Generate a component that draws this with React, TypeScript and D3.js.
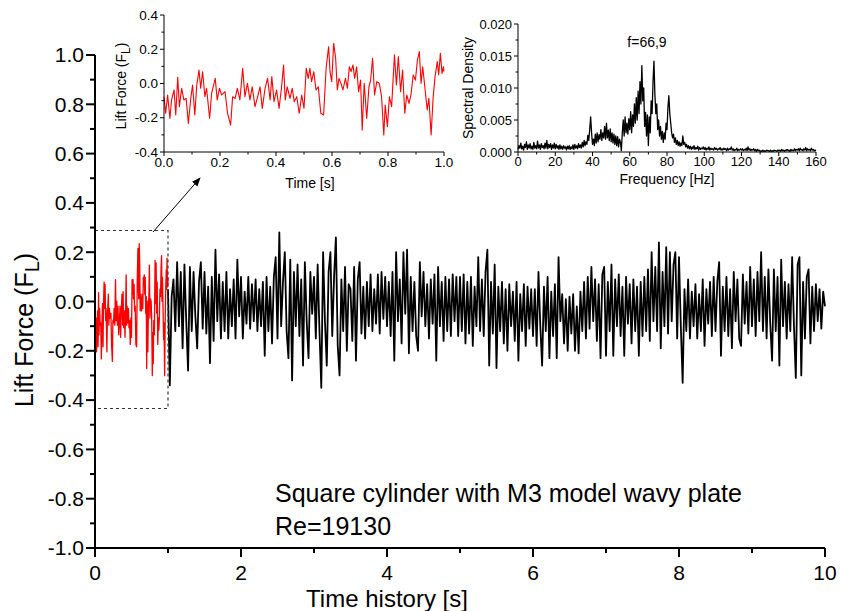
import React from "react";
import * as d3 from "d3";

const FONT = "'Liberation Sans', Arial, Helvetica, sans-serif";

// ---- Red segment (0–1 s), shown in main chart and in inset ----
const redTimes = [
  0, 0.006, 0.013, 0.021, 0.027, 0.036, 0.042, 0.049, 0.055, 0.063,
  0.071, 0.079, 0.087, 0.095, 0.102, 0.11, 0.117, 0.125, 0.131, 0.138,
  0.146, 0.152, 0.163, 0.17, 0.183, 0.19, 0.198, 0.206, 0.218, 0.227,
  0.238, 0.245, 0.254, 0.262, 0.271, 0.281, 0.289, 0.298, 0.307, 0.315,
  0.325, 0.333, 0.343, 0.351, 0.361, 0.37, 0.379, 0.385, 0.393, 0.402,
  0.411, 0.42, 0.427, 0.433, 0.44, 0.45, 0.458, 0.465, 0.474, 0.483,
  0.492, 0.5, 0.508, 0.515, 0.521, 0.527, 0.535, 0.543, 0.551, 0.56,
  0.57, 0.579, 0.588, 0.593, 0.599, 0.606, 0.613, 0.619, 0.625, 0.632,
  0.639, 0.648, 0.655, 0.662, 0.668, 0.675, 0.681, 0.688, 0.695, 0.702,
  0.708, 0.715, 0.724, 0.732, 0.738, 0.745, 0.752, 0.76, 0.769, 0.777,
  0.785, 0.79, 0.798, 0.805, 0.813, 0.823, 0.83, 0.837, 0.845, 0.852,
  0.86, 0.867, 0.875, 0.882, 0.89, 0.898, 0.905, 0.912, 0.918, 0.924,
  0.932, 0.94, 0.946, 0.954, 0.961, 0.968, 0.976, 0.981, 0.987, 0.993,
  0.998, 1.0,
];
const redValues = [
  -0.077, -0.174, -0.067, -0.204, -0.096, -0.038, -0.184, 0.036, -0.135, -0.028,
  -0.096, -0.087, -0.233, -0.096, -0.009, -0.184, -0.009, 0.079, -0.028, 0.069,
  -0.077, -0.028, -0.204, -0.058, 0.03, -0.096, -0.028, -0.067, -0.048, -0.174,
  -0.243, -0.077, -0.087, -0.028, -0.096, 0.089, -0.077, 0.001, -0.096, -0.019,
  -0.135, -0.087, -0.019, -0.145, -0.028, 0.03, -0.096, 0.04, -0.106, -0.038,
  -0.145, -0.019, 0.108, -0.096, -0.019, -0.087, -0.028, -0.106, -0.077, -0.174,
  -0.067, -0.145, 0.089, 0.03, 0.089, 0.011, 0.069, -0.038, -0.019, -0.174,
  -0.184, 0.089, 0.215, 0.069, 0.011, 0.235, 0.147, -0.038, 0.03, 0.001,
  -0.038, 0.03, -0.028, 0.098, 0.069, 0.108, 0.03, 0.098, -0.048, 0.02,
  -0.272, 0.001, -0.204, -0.019, 0.02, 0.147, -0.067, 0.011, 0.001, -0.077,
  -0.301, -0.126, -0.252, -0.077, -0.135, 0.167, -0.009, 0.157, -0.048, 0.079,
  -0.174, -0.067, -0.116, -0.067, 0.05, 0.02, 0.137, 0.186, 0.001, 0.098,
  -0.028, -0.155, -0.087, -0.301, -0.087, 0.04, 0.128, 0.05, 0.176, 0.059,
  0.098, 0.069,
];

// ---- Black segment (1–10 s), sampled every 0.025 s ----
const blackStart = 1.0;
const blackStep = 0.025;
const blackValues = [
  // 1.0–1.5
  0.05, -0.34, 0.02, 0.09, -0.12, 0.16, -0.1, 0.12, -0.19, 0.15, -0.08, -0.28, 0.14, -0.12, 0.12, -0.06, -0.19, 0.08, 0.16, -0.11,
  // 1.5–2.0
  0.12, -0.13, 0.06, -0.25, 0.1, -0.16, 0.21, -0.08, 0.11, -0.15, 0.08, -0.12, 0.12, -0.15, 0.05, -0.1, 0.09, -0.15, 0.17, -0.06,
  // 2.0–2.5
  0.1, -0.15, 0.04, -0.09, 0.1, -0.11, 0.07, -0.08, 0.09, -0.12, 0.05, -0.1, 0.08, -0.22, 0.1, -0.12, 0.06, -0.17, 0.1, 0.18,
  // 2.5–3.0
  -0.15, 0.28, -0.1, 0.08, 0.2, -0.12, -0.23, 0.17, -0.32, 0.12, -0.1, 0.15, -0.14, 0.09, -0.26, 0.16, -0.08, -0.23, 0.12, -0.05,
  // 3.0–3.5
  0.1, -0.15, 0.15, -0.12, -0.35, 0.2, -0.08, -0.26, 0.12, 0.2, -0.14, 0.1, 0.26, -0.18, -0.3, 0.09, -0.12, 0.14, -0.2, 0.07,
  // 3.5–4.0
  0.05, -0.16, 0.14, -0.24, 0.09, 0.16, -0.13, 0.06, -0.15, 0.08, -0.1, 0.11, -0.12, 0.05, -0.09, 0.11, -0.13, 0.12, -0.07, 0.1,
  // 4.0–4.5
  -0.1, 0.08, -0.14, 0.12, -0.24, 0.2, -0.08, 0.09, -0.17, 0.2, -0.05, 0.21, -0.21, 0.1, -0.12, 0.08, -0.14, -0.2, 0.16, -0.06,
  // 4.5–5.0
  0.12, -0.1, 0.07, -0.15, 0.09, -0.09, 0.11, -0.24, 0.14, -0.1, 0.08, -0.16, 0.1, -0.12, 0.09, -0.14, 0.11, -0.08, 0.1, -0.14,
  // 5.0–5.5
  0.1, -0.12, 0.11, -0.17, 0.08, -0.13, 0.1, -0.18, 0.06, -0.1, 0.18, -0.12, 0.09, -0.14, 0.12, 0.21, -0.26, 0.08, -0.13, 0.15,
  // 5.5–6.0
  -0.27, 0.06, -0.12, 0.08, -0.17, 0.05, -0.2, 0.07, -0.1, 0.04, -0.16, 0.08, -0.24, 0.03, -0.12, 0.07, -0.18, 0.06, -0.11, 0.05,
  // 6.0–6.5
  -0.14, 0.05, -0.18, 0.12, -0.1, -0.26, 0.06, -0.12, 0.1, -0.23, 0.04, -0.14, 0.07, -0.23, 0.18, -0.08, 0.03, -0.17, 0.01, -0.2,
  // 6.5–7.0
  0.02, -0.13, 0.03, -0.2, -0.02, -0.21, 0.04, -0.12, 0.08, -0.15, 0.1, -0.11, 0.14, -0.08, 0.09, -0.16, 0.07, -0.23, 0.11, 0.14,
  // 7.0–7.5
  -0.22, 0.08, -0.12, 0.15, -0.22, 0.09, -0.1, 0.11, -0.14, 0.06, -0.22, 0.1, -0.09, 0.07, -0.17, 0.09, -0.12, 0.06, -0.22, 0.08,
  // 7.5–8.0
  -0.14, 0.1, -0.12, 0.13, -0.16, 0.2, -0.08, 0.14, -0.12, 0.24, -0.19, 0.12, -0.1, 0.22, -0.13, 0.2, -0.08, 0.15, 0.2, -0.15,
  // 8.0–8.5
  0.18, -0.1, -0.33, 0.05, -0.12, 0.09, -0.15, 0.04, -0.1, 0.07, -0.15, 0.03, -0.12, 0.09, -0.18, 0.05, -0.09, 0.08, -0.14, 0.1,
  // 8.5–9.0
  -0.12, 0.08, 0.16, -0.22, 0.06, -0.12, 0.1, -0.14, 0.05, -0.19, 0.12, -0.08, 0.09, -0.15, -0.18, 0.11, -0.09, 0.08, -0.13, 0.14,
  // 9.0–9.5
  -0.1, 0.09, -0.14, 0.12, -0.08, 0.2, -0.12, 0.1, -0.15, 0.13, -0.09, -0.24, 0.13, -0.12, 0.1, -0.26, 0.17, -0.1, 0.08, -0.15,
  // 9.5–10.0
  0.07, -0.12, 0.18, -0.1, -0.31, 0.15, 0.18, -0.3, 0.08, -0.15, 0.1, 0.13, -0.17, 0.06, -0.12, 0.07, -0.08, 0.05, -0.11, 0.04, -0.02,
];

// ---- Spectral density (0–160 Hz), sampled every 0.5 Hz ----
const psdStep = 0.5;
const psdValues = [
  // 0–10
  0.0004, 0.001, 0.0006, 0.0014, 0.0005, 0.0009, 0.0003, 0.0012, 0.0007, 0.0016, 0.0004, 0.0011, 0.0006, 0.0013, 0.0005, 0.0009, 0.0004, 0.0015, 0.0006, 0.001,
  // 10–20
  0.0005, 0.0017, 0.0006, 0.0011, 0.0004, 0.0013, 0.0007, 0.001, 0.0005, 0.0014, 0.0006, 0.0018, 0.0005, 0.0012, 0.0007, 0.0013, 0.0004, 0.0011, 0.0006, 0.0014,
  // 20–30
  0.0005, 0.0012, 0.0006, 0.001, 0.0004, 0.0011, 0.0005, 0.0009, 0.0004, 0.001, 0.0006, 0.0008, 0.0003, 0.0009, 0.0005, 0.001, 0.0004, 0.0008, 0.0005, 0.0011,
  // 30–40
  0.0004, 0.0012, 0.0006, 0.001, 0.0005, 0.0013, 0.0007, 0.0011, 0.0006, 0.0015, 0.0008, 0.0018, 0.001, 0.0016, 0.0012, 0.0026, 0.0018, 0.0035, 0.0055, 0.003,
  // 40–50
  0.0012, 0.002, 0.001, 0.0028, 0.0014, 0.003, 0.0016, 0.0027, 0.002, 0.0035, 0.0018, 0.003, 0.0022, 0.004, 0.002, 0.0045, 0.0022, 0.0034, 0.0018, 0.0036,
  // 50–60
  0.0016, 0.003, 0.0014, 0.0028, 0.0012, 0.0025, 0.001, 0.0024, 0.0008, 0.002, 0.0015, 0.0002, 0.003, 0.005, 0.0025, 0.0055, 0.003, 0.0045, 0.0028, 0.0052,
  // 60–70
  0.0035, 0.0063, 0.003, 0.0058, 0.004, 0.0075, 0.0045, 0.0085, 0.005, 0.0095, 0.006, 0.011, 0.0075, 0.0135, 0.008, 0.01, 0.004, 0.0062, 0.0025, 0.0058,
  // 70–80
  0.001, 0.0055, 0.003, 0.008, 0.006, 0.011, 0.0142, 0.009, 0.006, 0.0075, 0.0035, 0.005, 0.0025, 0.004, 0.002, 0.0032, 0.0015, 0.003, 0.002, 0.0045,
  // 80–90
  0.0035, 0.007, 0.0088, 0.006, 0.0045, 0.003, 0.0022, 0.0028, 0.0015, 0.0022, 0.0012, 0.0018, 0.001, 0.0016, 0.0009, 0.0014, 0.001, 0.0025, 0.0012, 0.0015,
  // 90–100
  0.0008, 0.0012, 0.0006, 0.001, 0.0005, 0.0009, 0.0004, 0.0008, 0.0005, 0.001, 0.0004, 0.0007, 0.0005, 0.0009, 0.0003, 0.0007, 0.0004, 0.0006, 0.0005, 0.0008,
  // 100–110
  0.0004, 0.0007, 0.0003, 0.0006, 0.0004, 0.0008, 0.0003, 0.0006, 0.0004, 0.0005, 0.0003, 0.0007, 0.0004, 0.0006, 0.0003, 0.0005, 0.0004, 0.0007, 0.0003, 0.0005,
  // 110–120
  0.0003, 0.0006, 0.0004, 0.0005, 0.0002, 0.0006, 0.0003, 0.0005, 0.0004, 0.0008, 0.0003, 0.0005, 0.0002, 0.0004, 0.0003, 0.0006, 0.0002, 0.0004, 0.0003, 0.0005,
  // 120–130
  0.0003, 0.0005, 0.0002, 0.0004, 0.0003, 0.0006, 0.0002, 0.0008, 0.0003, 0.0005, 0.0002, 0.0004, 0.0003, 0.0005, 0.0002, 0.0004, 0.0001, 0.0004, 0.0002, 0.0003,
  // 130–140
  0.0001, 0.0002, 0.0001, 0.0003, 0.0001, 0.0002, 0.0001, 0.0003, 0.0002, 0.0002, 0.0001, 0.0003, 0.0001, 0.0002, 0.0001, 0.0003, 0.0002, 0.0002, 0.0001, 0.0003,
  // 140–150
  0.0002, 0.0003, 0.0001, 0.0004, 0.0002, 0.0003, 0.0001, 0.0003, 0.0002, 0.0004, 0.0002, 0.0003, 0.0001, 0.0004, 0.0002, 0.0003, 0.0002, 0.0005, 0.0002, 0.0004,
  // 150–160
  0.0003, 0.0005, 0.0002, 0.0006, 0.0003, 0.0004, 0.0002, 0.0005, 0.0003, 0.0007, 0.0002, 0.0005, 0.0003, 0.0004, 0.0002, 0.0006, 0.0003, 0.0004, 0.0002, 0.0003, 0.0002,
];

// ---- Tick definitions ----
const mainYTicks = [-1.0, -0.8, -0.6, -0.4, -0.2, 0.0, 0.2, 0.4, 0.6, 0.8, 1.0];
const mainYTickLabels = ["-1.0", "-0.8", "-0.6", "-0.4", "-0.2", "0.0", "0.2", "0.4", "0.6", "0.8", "1.0"];
const mainYMinor = [-0.9, -0.7, -0.5, -0.3, -0.1, 0.1, 0.3, 0.5, 0.7, 0.9];
const mainXTicks = [0, 2, 4, 6, 8, 10];
const mainXTickLabels = ["0", "2", "4", "6", "8", "10"];
const mainXMinor = [1, 3, 5, 7, 9];

const in1YTicks = [-0.4, -0.2, 0.0, 0.2, 0.4];
const in1YTickLabels = ["-0.4", "-0.2", "0.0", "0.2", "0.4"];
const in1YMinor = [-0.3, -0.1, 0.1, 0.3];
const in1XTicks = [0, 0.2, 0.4, 0.6, 0.8, 1.0];
const in1XTickLabels = ["0.0", "0.2", "0.4", "0.6", "0.8", "1.0"];
const in1XMinor = [0.1, 0.3, 0.5, 0.7, 0.9];

const in2YTicks = [0, 0.005, 0.01, 0.015, 0.02];
const in2YTickLabels = ["0.000", "0.005", "0.010", "0.015", "0.020"];
const in2YMinor = [0.0025, 0.0075, 0.0125, 0.0175];
const in2XTicks = [0, 20, 40, 60, 80, 100, 120, 140, 160];
const in2XTickLabels = ["0", "20", "40", "60", "80", "100", "120", "140", "160"];
const in2XMinor = [10, 30, 50, 70, 90, 110, 130, 150];

const zoomBox = { t0: 0, t1: 1.0, vTop: 0.288, vBottom: -0.434 };

export default function App() {
  const W = 841;
  const H = 611;

  // main scales
  const x = d3.scaleLinear().domain([0, 10]).range([95, 825]);
  const y = d3.scaleLinear().domain([-1, 1]).range([548, 55]);
  // inset 1
  const x1 = d3.scaleLinear().domain([0, 1]).range([164, 444]);
  const y1 = d3.scaleLinear().domain([-0.4, 0.4]).range([152, 15]);
  // inset 2
  const x2 = d3.scaleLinear().domain([0, 160]).range([518, 816]);
  const y2 = d3.scaleLinear().domain([0, 0.02]).range([152, 24]);

  const redPts: [number, number][] = redTimes.map((t, i) => [t, redValues[i]]);
  const blackPts: [number, number][] = blackValues.map((v, i) => [blackStart + i * blackStep, v]);
  const psdPts: [number, number][] = psdValues.map((v, i) => [i * psdStep, v]);

  const mainLine = d3.line<[number, number]>().x((d) => x(d[0])).y((d) => y(d[1]));
  const in1Line = d3.line<[number, number]>().x((d) => x1(d[0])).y((d) => y1(d[1]));
  const in2Line = d3.line<[number, number]>().x((d) => x2(d[0])).y((d) => y2(d[1]));

  const yAxis = (
    sx: d3.ScaleLinear<number, number>,
    sy: d3.ScaleLinear<number, number>,
    ticks: number[],
    labels: string[],
    minor: number[],
    maj: number,
    min: number,
    fs: number,
    sw: number,
    gap: number
  ) => {
    const x0 = sx.range()[0];
    return (
      <g>
        <line x1={x0} x2={x0} y1={sy.range()[0]} y2={sy.range()[1]} stroke="#000" strokeWidth={sw} />
        {ticks.map((t, i) => (
          <g key={"M" + i}>
            <line x1={x0 - maj} x2={x0} y1={sy(t)} y2={sy(t)} stroke="#000" strokeWidth={sw} />
            <text x={x0 - maj - gap} y={sy(t)} dy="0.35em" textAnchor="end" fontSize={fs} fontFamily={FONT} fill="#000">
              {labels[i]}
            </text>
          </g>
        ))}
        {minor.map((t, i) => (
          <line key={"m" + i} x1={x0 - min} x2={x0} y1={sy(t)} y2={sy(t)} stroke="#000" strokeWidth={sw} />
        ))}
      </g>
    );
  };

  const xAxis = (
    sx: d3.ScaleLinear<number, number>,
    sy: d3.ScaleLinear<number, number>,
    ticks: number[],
    labels: string[],
    minor: number[],
    maj: number,
    min: number,
    fs: number,
    sw: number,
    labelY: number
  ) => {
    const y0 = sy.range()[0];
    return (
      <g>
        <line x1={sx.range()[0]} x2={sx.range()[1]} y1={y0} y2={y0} stroke="#000" strokeWidth={sw} />
        {ticks.map((t, i) => (
          <g key={"M" + i}>
            <line x1={sx(t)} x2={sx(t)} y1={y0} y2={y0 + maj} stroke="#000" strokeWidth={sw} />
            <text x={sx(t)} y={labelY} textAnchor="middle" fontSize={fs} fontFamily={FONT} fill="#000">
              {labels[i]}
            </text>
          </g>
        ))}
        {minor.map((t, i) => (
          <line key={"m" + i} x1={sx(t)} x2={sx(t)} y1={y0} y2={y0 + min} stroke="#000" strokeWidth={sw} />
        ))}
      </g>
    );
  };

  return (
    <svg width={W} height={H} style={{ position: "absolute", left: 0, top: 0, background: "#fff" }}>
      <defs>
        <marker id="arrowHead" viewBox="0 0 10 10" refX="9" refY="5" markerWidth="9" markerHeight="9" orient="auto" markerUnits="userSpaceOnUse">
          <path d="M0,1 L10,5 L0,9 Z" fill="#000" />
        </marker>
      </defs>
      <rect x={0} y={0} width={W} height={H} fill="#fff" />

      {/* main series */}
      <path d={mainLine(blackPts) || ""} fill="none" stroke="#000" strokeWidth={1.8} strokeLinejoin="round" />
      <path d={mainLine(redPts) || ""} fill="none" stroke="#ff0000" strokeWidth={1.3} strokeLinejoin="round" />

      {/* zoom box */}
      <rect
        x={x(zoomBox.t0)}
        y={y(zoomBox.vTop)}
        width={x(zoomBox.t1) - x(zoomBox.t0)}
        height={y(zoomBox.vBottom) - y(zoomBox.vTop)}
        fill="none"
        stroke="#333"
        strokeWidth={1.2}
        strokeDasharray="3,3"
      />
      <line x1={153} y1={232} x2={200} y2={178} stroke="#000" strokeWidth={1} markerEnd="url(#arrowHead)" />

      {/* main axes */}
      {yAxis(x, y, mainYTicks, mainYTickLabels, mainYMinor, 9, 5, 21, 2, 2)}
      {xAxis(x, y, mainXTicks, mainXTickLabels, mainXMinor, 9, 5, 21, 2, 580)}

      <text transform="translate(33,330) rotate(-90)" textAnchor="middle" fontSize={25} fontFamily={FONT} fill="#000">
        Lift Force (F<tspan dy="0.3em" fontSize="0.8em">L</tspan><tspan dy="-0.24em">)</tspan>
      </text>
      <text x={387} y={607} textAnchor="middle" fontSize={24} fontFamily={FONT} fill="#000">
        Time history [s]
      </text>
      <text x={275} y={502} fontSize={25} fontFamily={FONT} fill="#000">
        Square cylinder with M3 model wavy plate
      </text>
      <text x={275} y={535} fontSize={25} fontFamily={FONT} fill="#000">
        Re=19130
      </text>

      {/* inset 1 */}
      <path d={in1Line(redPts) || ""} fill="none" stroke="#ff0000" strokeWidth={1.1} strokeLinejoin="round" />
      {yAxis(x1, y1, in1YTicks, in1YTickLabels, in1YMinor, 4, 2.5, 13.5, 1, 2)}
      {xAxis(x1, y1, in1XTicks, in1XTickLabels, in1XMinor, 4, 2.5, 13.5, 1, 167)}
      <text transform="translate(126,86) rotate(-90)" textAnchor="middle" fontSize={14} fontFamily={FONT} fill="#000">
        Lift Force (F<tspan dy="0.3em" fontSize="0.85em">L</tspan><tspan dy="-0.26em">)</tspan>
      </text>
      <text x={310} y={188} textAnchor="middle" fontSize={14} fontFamily={FONT} fill="#000">
        Time [s]
      </text>

      {/* inset 2 */}
      <path d={in2Line(psdPts) || ""} fill="none" stroke="#000" strokeWidth={1.3} strokeLinejoin="round" />
      {yAxis(x2, y2, in2YTicks, in2YTickLabels, in2YMinor, 4, 2.5, 13, 1, 2)}
      {xAxis(x2, y2, in2XTicks, in2XTickLabels, in2XMinor, 4, 2.5, 13, 1, 166)}
      <text transform="translate(473,88) rotate(-90)" textAnchor="middle" fontSize={14} fontFamily={FONT} fill="#000">
        Spectral Density
      </text>
      <text x={667} y={184} textAnchor="middle" fontSize={14} fontFamily={FONT} fill="#000">
        Frequency [Hz]
      </text>
      <text x={647} y={47} textAnchor="middle" fontSize={14} fontFamily={FONT} fill="#000">
        f=66,9
      </text>
    </svg>
  );
}
